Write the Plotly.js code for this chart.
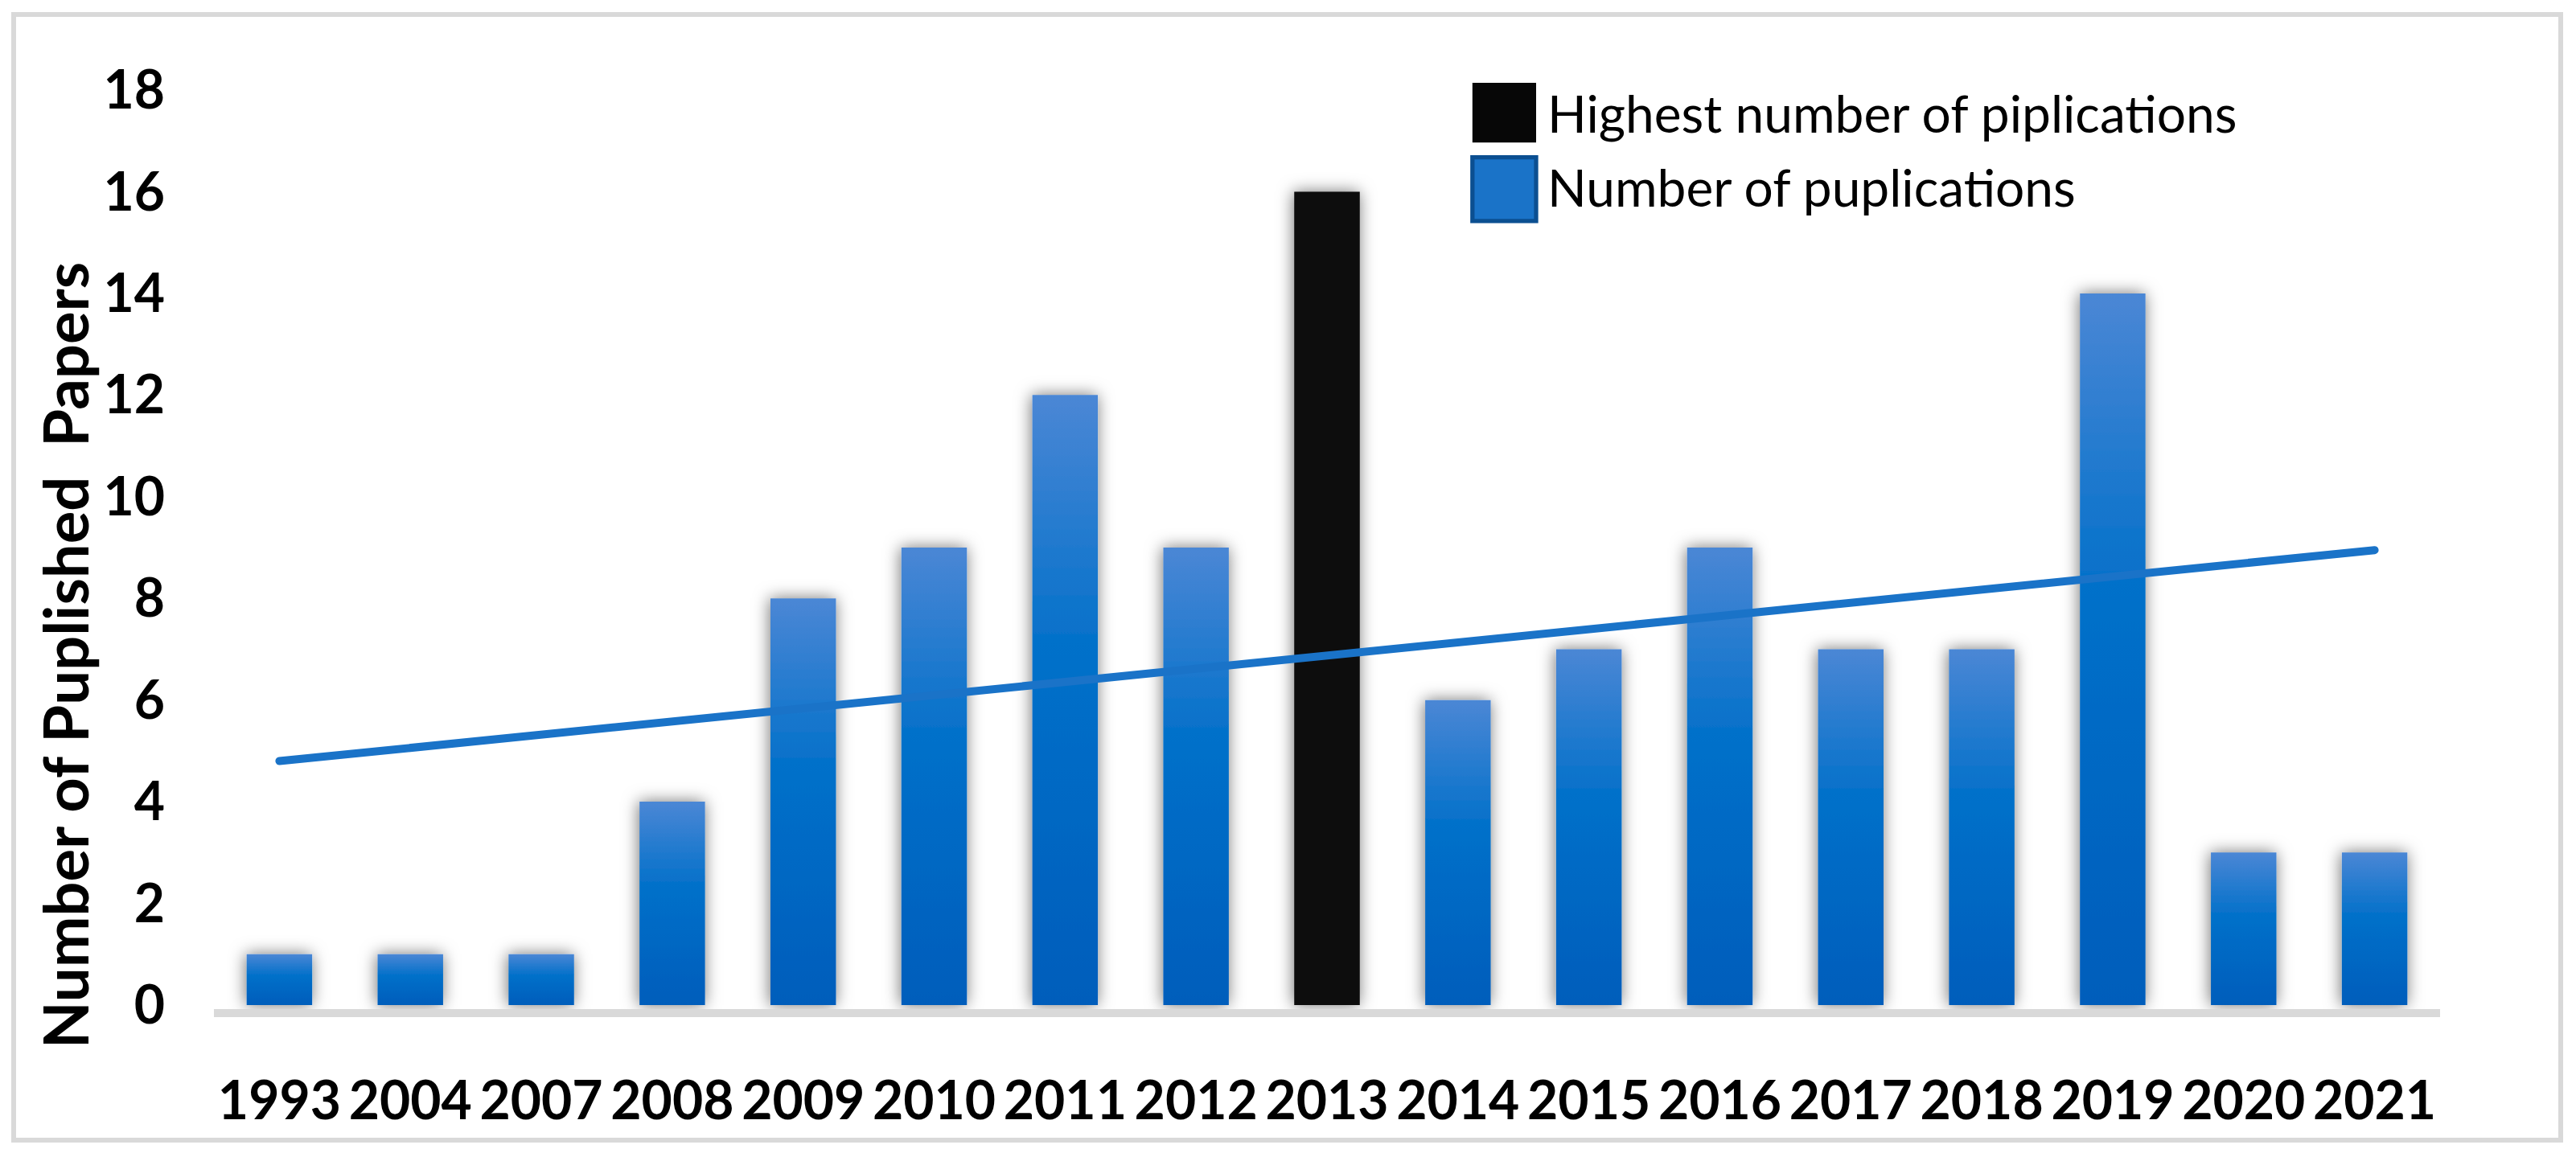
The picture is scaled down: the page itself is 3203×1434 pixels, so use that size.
<!DOCTYPE html>
<html>
<head>
<meta charset="utf-8">
<script src="https://cdn.plot.ly/plotly-3.0.1.min.js"></script>
<style>
  html, body { margin: 0; padding: 0; background: #ffffff; }
  #chart { width: 3203px; height: 1434px; }
</style>
</head>
<body>
<div id="chart"></div>
<script>
// ---- data ----
const years = ['1993','2004','2007','2008','2009','2010','2011','2012','2013','2014','2015','2016','2017','2018','2019','2020','2021'];
const papers = [1, 1, 1, 4, 8, 9, 12, 9, 16, 6, 7, 9, 7, 7, 14, 3, 3];
const trendYears = ['1993', '2021'];
const trendValues = [4.8, 8.95];
const yTicks = [0, 2, 4, 6, 8, 10, 12, 14, 16, 18];
const highestName = 'Highest number of piplications';
const seriesName = 'Number of puplications';
const yTitle = 'Number of Puplished&nbsp; Papers';

// split highest bar from the rest
const maxVal = Math.max(...papers);
const hiYears = years.filter((y, i) => papers[i] === maxVal);
const hiVals = papers.filter(v => v === maxVal);
const restYears = years.filter((y, i) => papers[i] !== maxVal);
const restVals = papers.filter(v => v !== maxVal);

// ---- geometry (pixels) ----
const W = 3203, H = 1434;
const L = 266, R = 3034, T = 112, B = 1255;
const px2x = px => (px - L) / (R - L);
const px2y = py => (B - py) / (B - T);

const tickFont = { family: 'Lato', size: 66, color: '#000000', weight: 700 };

const data = [
  { type: 'bar', x: hiYears, y: hiVals, name: highestName,
    marker: { color: '#070707', line: { width: 0 } },
    legendgroup: 'a', hoverinfo: 'skip' },
  { type: 'bar', x: restYears, y: restVals, name: seriesName,
    marker: { color: '#1a73c8', line: { width: 0 } },
    legendgroup: 'b', hoverinfo: 'skip' },
  { type: 'scatter', mode: 'lines', x: trendYears, y: trendValues,
    line: { color: '#1a73c8', width: 10 }, showlegend: false, hoverinfo: 'skip' }
];

const layout = {
  width: W, height: H,
  margin: { l: L, r: W - R, t: T, b: H - B, pad: 0 },
  paper_bgcolor: '#ffffff', plot_bgcolor: '#ffffff',
  barmode: 'overlay', bargap: 0.5,
  showlegend: true,
  legend: {
    x: px2x(1884), y: px2y(92), xanchor: 'left', yanchor: 'top',
    font: { family: 'Lato', size: 64, color: '#000000' },
    bgcolor: 'rgba(0,0,0,0)', borderwidth: 0,
    traceorder: 'grouped', tracegroupgap: 6, itemwidth: 30
  },
  xaxis: {
    type: 'category', categoryorder: 'array', categoryarray: years,
    showline: true, linecolor: '#d9d9d9', linewidth: 10,
    showgrid: false, zeroline: false, ticks: '',
    tickfont: tickFont, ticklabelstandoff: 48, fixedrange: true
  },
  yaxis: {
    range: [-5 / 63.25, 18], tickvals: yTicks, ticktext: yTicks.map(String),
    showline: false, showgrid: false, zeroline: false, ticks: '',
    tickfont: tickFont, ticklabelstandoff: 60, fixedrange: true
  },
  annotations: [{
    text: yTitle, textangle: -90, showarrow: false,
    xref: 'paper', yref: 'paper', x: px2x(80), y: px2y(815),
    xanchor: 'center', yanchor: 'middle',
    font: { family: 'Lato', size: 76, color: '#000000', weight: 700 }
  }],
  shapes: [{
    type: 'rect', xref: 'paper', yref: 'paper',
    x0: px2x(17), x1: px2x(3184), y0: px2y(1418), y1: px2y(18),
    line: { color: '#d9d9d9', width: 6 }, fillcolor: 'rgba(0,0,0,0)', layer: 'below'
  }]
};

Plotly.newPlot('chart', data, layout, { staticPlot: true, displayModeBar: false }).then(gd => {
  const NS = 'http://www.w3.org/2000/svg';
  const svg = gd.querySelector('svg.main-svg');
  let defs = svg.querySelector('defs');
  if (!defs) { defs = document.createElementNS(NS, 'defs'); svg.insertBefore(defs, svg.firstChild); }

  const grad = document.createElementNS(NS, 'linearGradient');
  grad.setAttribute('id', 'barGrad');
  grad.setAttribute('x1', '0'); grad.setAttribute('y1', '0');
  grad.setAttribute('x2', '0'); grad.setAttribute('y2', '1');
  [['0', '#4b87d5'], ['0.4', '#0571ca'], ['1', '#005dbb']].forEach(([o, c]) => {
    const s = document.createElementNS(NS, 'stop');
    s.setAttribute('offset', o); s.setAttribute('stop-color', c);
    grad.appendChild(s);
  });
  defs.appendChild(grad);

  const filt = document.createElementNS(NS, 'filter');
  filt.setAttribute('id', 'barShadow');
  filt.setAttribute('filterUnits', 'userSpaceOnUse');
  filt.setAttribute('x', '0'); filt.setAttribute('y', '0');
  filt.setAttribute('width', String(W)); filt.setAttribute('height', String(H));
  const ds = document.createElementNS(NS, 'feDropShadow');
  ds.setAttribute('dx', '-1'); ds.setAttribute('dy', '0');
  ds.setAttribute('stdDeviation', '10');
  ds.setAttribute('flood-color', '#000000'); ds.setAttribute('flood-opacity', '0.55');
  filt.appendChild(ds);
  defs.appendChild(filt);

  const barTraces = gd.querySelectorAll('.barlayer .trace');
  barTraces.forEach((tr, ti) => {
    tr.querySelectorAll('path').forEach(p => {
      p.style.filter = 'url(#barShadow)';
      if (ti === 1) p.style.fill = 'url(#barGrad)';
    });
  });

  gd.querySelectorAll('.scatterlayer .js-line').forEach(p => {
    p.style.strokeLinecap = 'round';
  });

  // let enlarged legend swatches show outside the legend clip box
  gd.querySelectorAll('.legend [clip-path]').forEach(e => e.removeAttribute('clip-path'));

  // enlarge legend swatches
  const items = gd.querySelectorAll('.legend .traces');
  items.forEach((it, i) => {
    const p = it.querySelector('path.legendbar') || it.querySelector('.legendpoints path');
    const t = it.querySelector('text.legendtext');
    if (!p || !t) return;
    p.setAttribute('transform', 'scale(6.6,6.2)');
    if (i === 1) {
      p.style.stroke = '#0b4f91';
      p.style.strokeWidth = '0.8px';
      p.style.fill = '#1a73c8';
      p.setAttribute('transform', 'scale(6.6,6.6)');
    }
    const pr = p.getBoundingClientRect();
    const tr = t.getBoundingClientRect();
    const dx = (tr.left - 14) - pr.right;
    const dy = (i === 1) ? 3 : 0;
    p.setAttribute('transform', 'translate(' + dx + ',' + dy + ') ' + p.getAttribute('transform'));
  });
});
</script>
</body>
</html>
